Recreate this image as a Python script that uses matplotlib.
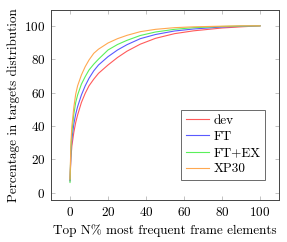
import numpy as np
import matplotlib
matplotlib.use('Agg')
import matplotlib.pyplot as plt

plt.rcParams['font.family'] = 'serif'
plt.rcParams['font.serif'] = ['cmr10']
plt.rcParams['mathtext.fontset'] = 'cm'
plt.rcParams['axes.formatter.use_mathtext'] = True

# top N% of frame elements
x = [0, 0.5, 1, 2, 3, 4, 6, 8, 10, 12.5, 15, 20, 25, 30, 37, 45, 55, 65, 80, 90, 100]
dev = [7, 21, 28, 36, 42, 46.5, 54, 59.5, 64, 68, 71.5, 76.5, 81, 84.8, 89, 92.5, 95.3, 97, 98.7, 99.4, 100]
ft = [7, 24, 32, 41, 47, 51.5, 58.5, 64, 68.5, 73, 76.5, 81.5, 85.5, 88.7, 92.3, 94.8, 96.9, 98.1, 99.3, 99.7, 100]
ftex = [6, 27, 36, 47, 54, 58.5, 65, 69.5, 73.5, 77, 80, 85.5, 88.8, 91.3, 94.2, 96.3, 97.9, 98.9, 99.6, 99.9, 100]
xp30 = [8, 30, 40, 51, 59, 64, 70.5, 75.5, 79.5, 83.5, 86, 89.7, 92.3, 94.3, 96.5, 97.9, 98.9, 99.4, 99.8, 100, 100]

series = [('dev', dev, '#ff5a5a'), ('FT', ft, '#5a5aff'),
          ('FT+EX', ftex, '#5af05a'), ('XP30', xp30, '#ffa850')]

fig = plt.figure(figsize=(2.87, 2.42), dpi=100)
ax = fig.add_axes([51/287, 42/242, 228/287, 190/242])

for name, vals, col in series:
    ax.plot(x, vals, color=col, lw=0.8, label=name)

ax.set_xlim(-10, 110)
ax.set_ylim(-4.5, 109.5)
ax.set_xticks([0, 20, 40, 60, 80, 100])
ax.set_yticks([0, 20, 40, 60, 80, 100])
ax.tick_params(direction='in', top=True, right=True, labelsize=9.5,
               length=3, width=0.5, color='#aaaaaa', pad=4)
for s in ax.spines.values():
    s.set_color('#444444')
    s.set_linewidth(0.7)
ax.set_xlabel('Top N% most frequent frame elements', fontsize=9.5, labelpad=4)
ax.set_ylabel('Percentage in targets distribution', fontsize=9.5, labelpad=3)

leg = ax.legend(loc='lower right', bbox_to_anchor=(0.939, 0.105), fontsize=9.5,
                frameon=True, fancybox=False, handlelength=1.8, handletextpad=0.3,
                borderpad=0.35, labelspacing=0.3, borderaxespad=0)
leg.get_frame().set_edgecolor('#444444')
leg.get_frame().set_linewidth(0.7)

fig.savefig('out.png', dpi=100)
